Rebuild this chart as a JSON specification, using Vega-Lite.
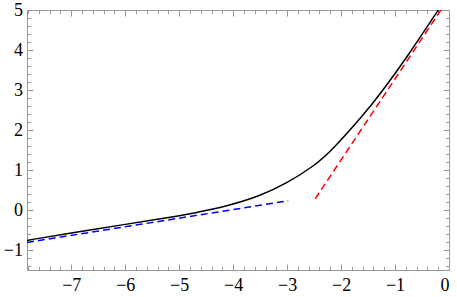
{
  "$schema": "https://vega.github.io/schema/vega-lite/v6.json",
  "autosize": {"type": "none"},
  "padding": {"left": 27, "top": 10, "right": 8, "bottom": 27},
  "width": 422,
  "height": 260,
  "config": {
    "view": {"stroke": null},
    "axis": {"grid": false, "domainColor": "#999999", "tickColor": "#999999", "labelFont": "Liberation Serif", "labelFontSize": 18, "labelColor": "#000000"}
  },
  "datasets": {
    "black": [
      {"x": -7.82, "y": -0.76},
      {"x": -7.0, "y": -0.57},
      {"x": -6.0, "y": -0.36},
      {"x": -5.34, "y": -0.22},
      {"x": -4.72, "y": -0.08},
      {"x": -4.1, "y": 0.1},
      {"x": -3.5, "y": 0.35},
      {"x": -3.0, "y": 0.67},
      {"x": -2.5, "y": 1.1},
      {"x": -2.17, "y": 1.49},
      {"x": -1.57, "y": 2.4},
      {"x": -1.26, "y": 2.93},
      {"x": -0.8, "y": 3.775},
      {"x": -0.2, "y": 5.0},
      {"x": -0.1, "y": 5.2}
    ],
    "red": [
      {"x": -2.48, "y": 0.28},
      {"x": -0.15, "y": 5.0}
    ],
    "blue": [
      {"x": -7.82, "y": -0.81},
      {"x": -2.98, "y": 0.23}
    ]
  },
  "resolve": {"axis": {"x": "independent", "y": "independent"}},
  "layer": [
    {
      "data": {"name": "black"},
      "mark": {"type": "line", "color": "#000000", "strokeWidth": 1.5, "interpolate": "basis", "clip": true},
      "encoding": {
        "x": {"field": "x", "type": "quantitative", "scale": {"domain": [-7.82, 0], "nice": false, "zero": false},
          "axis": {"orient": "bottom", "values": [-7, -6, -5, -4, -3, -2, -1, 0], "format": "d", "tickSize": -6, "labelPadding": 12, "title": null, "labelFont": "Liberation Serif", "labelFontSize": 18, "labelColor": "#000000", "domainColor": "#999999", "tickColor": "#999999",
            "encode": {"labels": {"update": {"font": {"value": "Liberation Serif"}, "fontSize": {"value": 18}}}}}},
        "y": {"field": "y", "type": "quantitative", "scale": {"domain": [-1.5, 5], "nice": false, "zero": false},
          "axis": {"orient": "left", "values": [-1, 0, 1, 2, 3, 4, 5], "format": "d", "tickSize": -6, "labelPadding": 10.5, "title": null, "labelFont": "Liberation Serif", "labelFontSize": 18, "labelColor": "#000000", "domainColor": "#999999", "tickColor": "#999999",
            "encode": {"labels": {"update": {"font": {"value": "Liberation Serif"}, "fontSize": {"value": 18}}}}}}
      }
    },
    {
      "data": {"name": "red"},
      "mark": {"type": "line", "color": "#ff0000", "strokeWidth": 1.5, "strokeDash": [7, 4], "clip": true},
      "encoding": {
        "x": {"field": "x", "type": "quantitative",
          "axis": {"orient": "bottom", "values": [-7.8, -7.6, -7.4, -7.2, -6.8, -6.6, -6.4, -6.2, -5.8, -5.6, -5.4, -5.2, -4.8, -4.6, -4.4, -4.2, -3.8, -3.6, -3.4, -3.2, -2.8, -2.6, -2.4, -2.2, -1.8, -1.6, -1.4, -1.2, -0.8, -0.6, -0.4, -0.2], "labels": false, "domain": false, "tickSize": -3.5, "title": null, "tickColor": "#999999"}},
        "y": {"field": "y", "type": "quantitative",
          "axis": {"orient": "left", "values": [-1.4, -1.2, -0.8, -0.6, -0.4, -0.2, 0.2, 0.4, 0.6, 0.8, 1.2, 1.4, 1.6, 1.8, 2.2, 2.4, 2.6, 2.8, 3.2, 3.4, 3.6, 3.8, 4.2, 4.4, 4.6, 4.8], "labels": false, "domain": false, "tickSize": -3.5, "title": null, "tickColor": "#999999"}}
      }
    },
    {
      "data": {"name": "blue"},
      "mark": {"type": "line", "color": "#0000ff", "strokeWidth": 1.5, "strokeDash": [7, 4], "clip": true},
      "encoding": {
        "x": {"field": "x", "type": "quantitative",
          "axis": {"orient": "top", "values": [-7, -6, -5, -4, -3, -2, -1, 0], "labels": false, "tickSize": -6, "title": null, "domainColor": "#999999", "tickColor": "#999999"}},
        "y": {"field": "y", "type": "quantitative",
          "axis": {"orient": "right", "values": [-1, 0, 1, 2, 3, 4, 5], "labels": false, "tickSize": -6, "title": null, "domainColor": "#999999", "tickColor": "#999999"}}
      }
    },
    {
      "data": {"name": "blue"},
      "mark": {"type": "line", "opacity": 0},
      "encoding": {
        "x": {"field": "x", "type": "quantitative",
          "axis": {"orient": "top", "values": [-7.8, -7.6, -7.4, -7.2, -6.8, -6.6, -6.4, -6.2, -5.8, -5.6, -5.4, -5.2, -4.8, -4.6, -4.4, -4.2, -3.8, -3.6, -3.4, -3.2, -2.8, -2.6, -2.4, -2.2, -1.8, -1.6, -1.4, -1.2, -0.8, -0.6, -0.4, -0.2], "labels": false, "domain": false, "tickSize": -3.5, "title": null, "tickColor": "#999999"}},
        "y": {"field": "y", "type": "quantitative",
          "axis": {"orient": "right", "values": [-1.4, -1.2, -0.8, -0.6, -0.4, -0.2, 0.2, 0.4, 0.6, 0.8, 1.2, 1.4, 1.6, 1.8, 2.2, 2.4, 2.6, 2.8, 3.2, 3.4, 3.6, 3.8, 4.2, 4.4, 4.6, 4.8], "labels": false, "domain": false, "tickSize": -3.5, "title": null, "tickColor": "#999999"}}
      }
    }
  ]
}
